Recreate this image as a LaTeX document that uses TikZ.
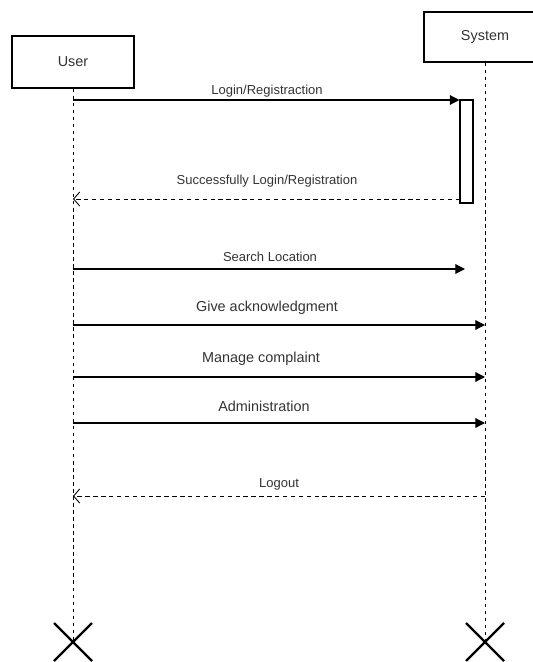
\documentclass[tikz,border=0pt]{standalone}
\usepackage{fontspec}
\setmainfont{Liberation Sans}
\usetikzlibrary{arrows.meta}

\tikzset{
  actor/.style={draw,fill=white,line width=0.6pt,text=black!80,font=\fontsize{8.2}{9}\selectfont},
  lifeline/.style={dash pattern=on 2pt off 2pt,line width=0.5pt},
  msg/.style={-{Triangle[length=5.5pt,width=5.5pt]},line width=0.7pt},
  ret/.style={-{Straight Barb[length=3.5pt,width=8pt]},dash pattern=on 2.5pt off 2pt,line width=0.5pt},
  lbl/.style={text=black!80,inner sep=0pt,font=\fontsize{7.4}{8}\selectfont},
  biglbl/.style={lbl,font=\fontsize{8.2}{9}\selectfont},
  kill/.style={line width=1.3pt}
}

\begin{document}
\begin{tikzpicture}[x=0.02cm,y=-0.02cm]
\clip (0,0) rectangle (533,662);

\node[actor,minimum width=2.44cm,minimum height=1.04cm] (user) at (73,62) {User};
\node[actor,minimum width=2.44cm,minimum height=1cm] (sys) at (485,37) {System};

\coordinate (uend) at (73,642);
\coordinate (send) at (485,642);
\draw[lifeline] (user.south) -- (uend);
\draw[lifeline] (sys.south) -- (send);

\node[draw,fill=white,line width=0.6pt,inner sep=0pt,minimum width=0.26cm,minimum height=2.06cm] (act) at (466.5,151.5) {};

\coordinate (m1) at (73,100);
\draw[msg] (m1) -- (m1 -| act.west);
\coordinate (m2) at (460,199);
\draw[ret] (m2) -- (m2 -| uend);

\coordinate (m3) at (73,269);
\coordinate (s3) at (465,269);
\draw[msg] (m3) -- (s3);

\coordinate (m4) at (73,325);
\draw[msg] (m4) -- (m4 -| send);
\coordinate (m5) at (73,377);
\draw[msg] (m5) -- (m5 -| send);
\coordinate (m6) at (73,423);
\draw[msg] (m6) -- (m6 -| send);

\coordinate (m7) at (485,496);
\draw[ret] (m7) -- (m7 -| uend);

\node[lbl] (l1) at (267,91) {Login/Registraction};
\node[lbl] (l2) at (267,181) {Successfully Login/Registration};
\node[lbl] (l3) at (270,257) {Search Location};
\node[biglbl] (l4) at (267,308) {Give acknowledgment};
\node[biglbl] (l5) at (261,359) {Manage complaint};
\node[biglbl] (l6) at (264,406) {Administration};
\node[lbl] (l7) at (279,484) {Logout};

\draw[kill] (uend) +(-19,-19) -- +(19,19) (uend) +(-19,19) -- +(19,-19);
\draw[kill] (send) +(-19,-19) -- +(19,19) (send) +(-19,19) -- +(19,-19);
\end{tikzpicture}
\end{document}
